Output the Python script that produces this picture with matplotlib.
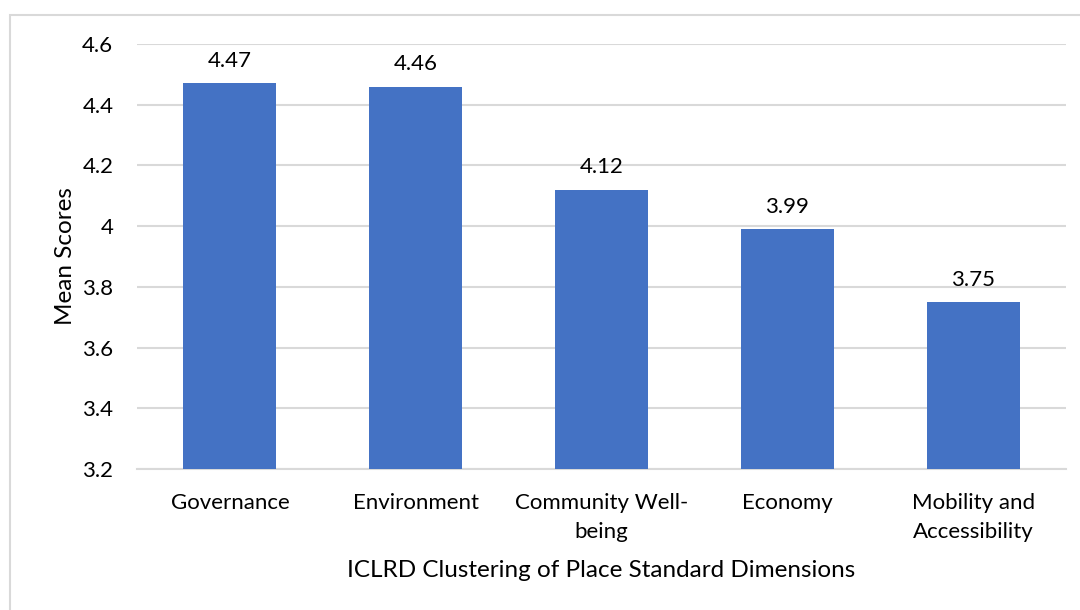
import matplotlib
matplotlib.use("Agg")
import matplotlib.pyplot as plt
from matplotlib.patches import Rectangle

categories = ["Governance", "Environment", "Community Well-\nbeing", "Economy", "Mobility and\nAccessibility"]
values = [4.47, 4.46, 4.12, 3.99, 3.75]
yticks = [3.2, 3.4, 3.6, 3.8, 4.0, 4.2, 4.4, 4.6]
ytick_labels = ["3.2", "3.4", "3.6", "3.8", "4", "4.2", "4.4", "4.6"]

plt.rcParams['font.family'] = ['Lato', 'DejaVu Sans']

fig = plt.figure(figsize=(10.8, 6.1), dpi=100)
fig.patches.append(Rectangle((10/1080, -0.1), 1.2, 1 - 15/610 + 0.1,
                             transform=fig.transFigure, fill=False,
                             edgecolor='#d9d9d9', linewidth=1.5, zorder=0))
ax = fig.add_axes([137/1080, 1 - 469/610, 929/1080, 425/610])

x = range(len(categories))
bars = ax.bar(x, values, width=0.5, color='#4472C4', zorder=3)
ax.set_ylim(3.2, 4.6)
ax.set_xlim(-0.5, len(categories) - 0.5)
ax.set_yticks(yticks)
ax.set_yticklabels(ytick_labels, fontsize=16)
ax.set_xticks(list(x))
ax.set_xticklabels(categories, fontsize=16, linespacing=1.6)
ax.grid(axis='y', color='#d9d9d9', linewidth=1.5, zorder=0)
ax.set_axisbelow(True)
for s in ['top', 'right', 'left']:
    ax.spines[s].set_visible(False)
ax.spines['bottom'].set_color('#d9d9d9')
ax.spines['bottom'].set_linewidth(1.5)
ax.tick_params(axis='both', length=0, colors='black')
ax.tick_params(axis='y', pad=17)
ax.tick_params(axis='x', pad=17)
for i, v in enumerate(values):
    ax.annotate(f"{v:.2f}", (i, v), xytext=(0, 9), textcoords='offset points',
                ha='center', va='bottom', fontsize=16)
ax.set_ylabel("Mean Scores", fontsize=17.5, labelpad=4.5)
ax.set_xlabel("ICLRD Clustering of Place Standard Dimensions", fontsize=17.5, labelpad=13)

fig.savefig("out.png", dpi=100)
